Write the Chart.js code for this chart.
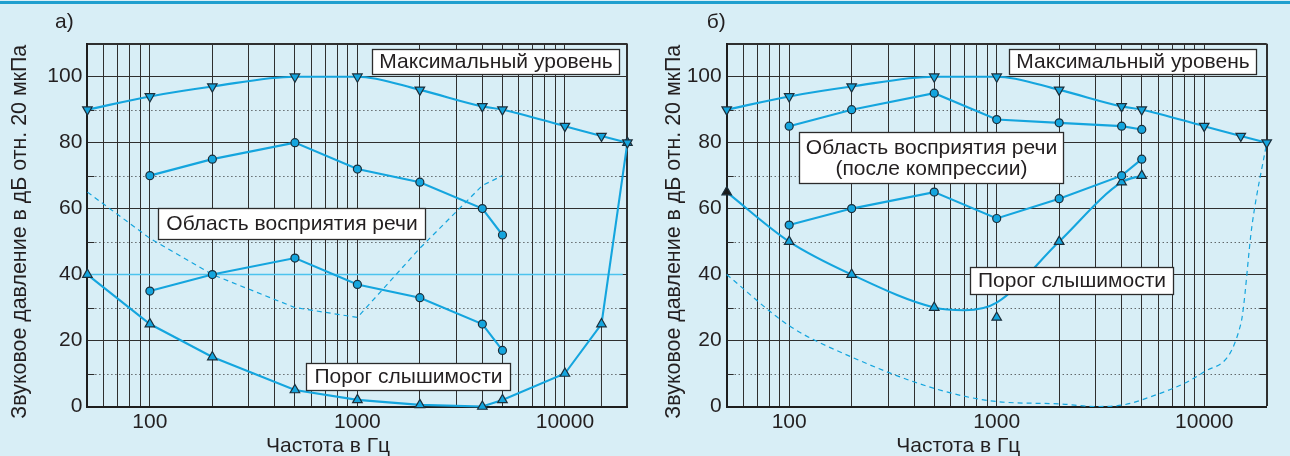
<!DOCTYPE html>
<html lang="ru">
<head>
<meta charset="utf-8">
<title>Звуковое давление — порог слышимости</title>
<script src="https://cdn.jsdelivr.net/npm/chart.js@4.4.1/dist/chart.umd.min.js"></script>
<style>
    html, body { margin: 0; padding: 0; background: #d8eef6; }
    body { width: 1290px; height: 456px; position: relative; overflow: hidden; }
    .filet { position: absolute; left: 0; top: 1px; width: 1290px; height: 3px; background: #1f9fcf; }
    .panneau { position: absolute; top: 0; width: 645px; height: 456px; }
</style>
</head>
<body>
<div class="filet"></div>
<div class="panneau" style="left:0"><canvas id="graphiqueA" width="645" height="456"></canvas></div>
<div class="panneau" style="left:645px"><canvas id="graphiqueB" width="645" height="456"></canvas></div>

<script>
/**
 * Deux panneaux : zone de perception de la parole, seuil d'audition
 * et niveau maximal, en dB rel. 20 µPa selon la fréquence (axe log).
 */

// Lignes verticales de la grille (Hz) et étiquettes affichées
const GRILLE_FREQ  = [50, 60, 70, 80, 90, 100, 200, 300, 400, 500, 600, 700, 800, 900,
                      1000, 2000, 3000, 4000, 5000, 6000, 7000, 8000, 9000, 10000, 20000];
const ETIQUETTES_X = [100, 1000, 10000];
const ETIQUETTES_Y = [0, 20, 40, 60, 80, 100];
const POINTILLES_Y = [10, 30, 50, 70, 90];

// Niveau maximal (triangles pointe en bas), identique sur les deux panneaux
const FREQ_MAX   = [50, 100, 200, 500, 1000, 2000, 4000, 5000, 10000, 15000, 20000];
const NIVEAU_MAX = [90, 94, 97, 100, 100, 96, 91, 90, 85, 82, 80];

// Zone de perception de la parole (cercles)
const FREQ_PAROLE   = [100, 200, 500, 1000, 2000, 4000, 5000];
const PAROLE_HAUT_A = [70, 75, 80, 72, 68, 60, 52];
const PAROLE_BAS_A  = [35, 40, 45, 37, 33, 25, 17];
const PAROLE_HAUT_B = [85, 90, 95, 87, 86, 85, 84];
const PAROLE_BAS_B  = [55, 60, 65, 57, 63, 70, 75];

// Seuil d'audition normal (panneau а, trait plein)
const FREQ_SEUIL = [50, 100, 200, 500, 1000, 2000, 4000, 5000, 10000, 15000, 20000];
const SEUIL_A    = [40, 25, 15, 5, 2, 0.5, 0, 2, 10, 25, 80];

// Seuil d'audition normal (panneau б, tirets)
const FREQ_SEUIL_TIRETS = [50, 100, 200, 500, 1000, 2000, 3000, 4000, 5000, 10000, 15000, 17000, 20000];
const SEUIL_TIRETS_B    = [40, 24.5, 15, 5.5, 1.5, 0.8, 0, 0.4, 2, 10.5, 25, 55, 80];

// Seuil avec perte auditive (panneau а, tirets)
const FREQ_PERTE_A = [50, 100, 200, 500, 1000, 2000, 4000, 5000];
const PERTE_A      = [65, 51, 40, 30, 27, 48, 67, 70];

// Seuil avec perte auditive (panneau б) : courbe lissée et mesures
const FREQ_PERTE_B_COURBE = [50, 100, 200, 500, 700, 1000, 2000, 4000, 5000];
const PERTE_B_COURBE      = [65, 50, 40, 30, 29.2, 31.5, 50, 68, 70];
const FREQ_PERTE_B        = [50, 100, 200, 500, 1000, 2000, 4000, 5000];
const PERTE_B_MESURE      = [65, 50, 40, 30, 27, 50, 68, 70];

// Niveau de référence 40 dB (panneau а)
const FREQ_REF_A = [50, 19000];
const NIVEAU_REF = [40, 40];

const BLEU       = '#14a5de';
const BLEU_CLAIR = '#4cc3ee';
const CONTOUR    = '#1b2e3a';
const ENCRE      = '#231f20';
const POLICE     = '"Liberation Sans", Arial, sans-serif';
const TAILLE     = 21;

function points(freqs, valeurs) {
    return freqs.map((f, i) => ({ x: f, y: valeurs[i] }));
}

function serieCourbe(donnees, extra) {
    return Object.assign({
        data: donnees,
        borderColor: BLEU,
        borderWidth: 2.1,
        pointRadius: 0,
        fill: false,
        clip: false,
        tension: 0,
    }, extra);
}

function serieMarques(donnees, style, extra) {
    const triangle = style !== 'circle';
    return Object.assign({
        data: donnees,
        showLine: false,
        pointStyle: triangle ? 'triangle' : 'circle',
        pointRotation: style === 'bas' ? 180 : 0,
        pointRadius: triangle ? 5.5 : 4,
        pointBorderWidth: 1.2,
        pointBackgroundColor: BLEU,
        pointBorderColor: CONTOUR,
        clip: false,
    }, extra);
}

// Encadrés de texte, placés en coordonnées (Hz, dB)
const ENCADRES_A = [
    { f1: 1172, f2: 18240, haut: 108.3, bas: 100.8, lignes: ['Максимальный уровень'] },
    { f1: 110,  f2: 2118,  haut: 60.1,  bas: 50.7,  lignes: ['Область восприятия речи'] },
    { f1: 563,  f2: 5440,  haut: 13.3,  bas: 5.1,   lignes: ['Порог слышимости'] },
];
const ENCADRES_B = [
    { f1: 1147, f2: 17700, haut: 108.3, bas: 100.8, lignes: ['Максимальный уровень'] },
    { f1: 111,  f2: 2094,  haut: 83.3,  bas: 67.7,  lignes: ['Область восприятия речи', '(после компрессии)'] },
    { f1: 744,  f2: 7080,  haut: 42.4,  bas: 34.2,  lignes: ['Порог слышимости'] },
];

// Grille pointillée, encadrés et titres des axes
const pluginDecor = {
    id: 'decor',
    beforeDatasetsDraw(chart) {
        const { ctx, chartArea: { left, right } } = chart;
        const y = chart.scales.y;
        ctx.save();
        ctx.strokeStyle = '#2a2a2a';
        ctx.lineWidth = 1;
        for (const v of POINTILLES_Y) {
            const py = Math.round(y.getPixelForValue(v)) + 0.5;
            ctx.setLineDash([1, 3]);
            ctx.beginPath();
            ctx.moveTo(left, py);
            ctx.lineTo(right, py);
            ctx.stroke();
            ctx.setLineDash([]);
            ctx.beginPath();
            ctx.moveTo(left, py);
            ctx.lineTo(left + 7, py);
            ctx.moveTo(right - 7, py);
            ctx.lineTo(right, py);
            ctx.stroke();
        }
        ctx.restore();
    },
    afterDatasetsDraw(chart, args, opts) {
        const { ctx } = chart;
        const xs = chart.scales.x, ys = chart.scales.y;
        ctx.save();
        ctx.font = TAILLE + 'px ' + POLICE;
        ctx.textAlign = 'center';
        ctx.textBaseline = 'alphabetic';
        for (const enc of opts.encadres) {
            const x1 = Math.round(xs.getPixelForValue(enc.f1)) + 0.5;
            const x2 = Math.round(xs.getPixelForValue(enc.f2)) + 0.5;
            const y1 = Math.round(ys.getPixelForValue(enc.haut)) + 0.5;
            const y2 = Math.round(ys.getPixelForValue(enc.bas)) + 0.5;
            ctx.fillStyle = '#ffffff';
            ctx.fillRect(x1, y1, x2 - x1, y2 - y1);
            ctx.strokeStyle = '#2b2b2b';
            ctx.lineWidth = 1.3;
            ctx.strokeRect(x1, y1, x2 - x1, y2 - y1);
            ctx.fillStyle = ENCRE;
            const interligne = 21;
            const debut = (y1 + y2) / 2 - (enc.lignes.length - 1) * interligne / 2 + 6;
            enc.lignes.forEach((texte, i) => {
                ctx.fillText(texte, (x1 + x2) / 2, debut + i * interligne);
            });
        }
        ctx.restore();
    },
    afterDraw(chart, args, opts) {
        const { ctx } = chart;
        ctx.save();
        ctx.fillStyle = ENCRE;
        ctx.font = TAILLE + 'px ' + POLICE;
        ctx.textBaseline = 'alphabetic';
        // Titre de l'axe X
        ctx.textAlign = 'center';
        ctx.fillText('Частота в Гц', opts.titreX, 451.5);
        // Titre de l'axe Y (vertical)
        ctx.save();
        ctx.font = '21.4px ' + POLICE;
        ctx.translate(opts.titreY, 231.7);
        ctx.rotate(-Math.PI / 2);
        ctx.fillText('Звуковое давление в дБ отн. 20 мкПа', 0, 0);
        ctx.restore();
        // Lettre du panneau
        ctx.textAlign = 'left';
        ctx.fillText(opts.lettre, opts.xLettre, 28);
        ctx.restore();
    }
};

function creerPanneau(canvas, reglages) {
    new Chart(canvas, {
        type: 'line',
        data: { datasets: reglages.series },
        plugins: [pluginDecor],
        options: {
            responsive: false,
            animation: false,
            devicePixelRatio: 1,
            layout: { padding: { top: 43.7, right: reglages.margeDroite, bottom: 0, left: 0 } },
            plugins: {
                legend: { display: false },
                tooltip: { enabled: false },
                decor: reglages.decor,
            },
            scales: {
                x: {
                    type: 'logarithmic',
                    min: 50,
                    max: 20000,
                    afterBuildTicks: scale => {
                        scale.ticks = reglages.grille.map(v => ({ value: v }));
                    },
                    afterFit: scale => { scale.height = 49.5; },
                    ticks: {
                        autoSkip: false,
                        maxRotation: 0,
                        padding: 3,
                        color: ENCRE,
                        font: { family: POLICE, size: TAILLE },
                        callback: v => ETIQUETTES_X.includes(v) ? String(v) : '',
                    },
                    grid: {
                        drawTicks: false,
                        color: '#2f2f2f',
                        lineWidth: c => c.tick && c.tick.value === 20000 ? 2 : 1,
                    },
                    border: { color: '#1e1e1e', width: 2 },
                },
                y: {
                    min: 0,
                    max: 110,
                    afterFit: scale => { scale.width = reglages.largeurY; },
                    ticks: {
                        stepSize: 10,
                        padding: 5,
                        color: ENCRE,
                        font: { family: POLICE, size: TAILLE },
                        callback: v => ETIQUETTES_Y.includes(v) ? String(v) : '',
                    },
                    grid: {
                        drawTicks: false,
                        color: c => (c.tick && (c.tick.value % 20 === 0 || c.tick.value === 110)) ? '#2f2f2f' : 'rgba(0,0,0,0)',
                        lineWidth: c => c.tick && c.tick.value === 110 ? 2 : 1,
                    },
                    border: { color: '#1e1e1e', width: 2 },
                },
            },
        },
    });
}

function panneauA() {
    const iChute = FREQ_SEUIL.indexOf(15000);
    return {
        grille: GRILLE_FREQ,
        largeurY: 87.4,
        margeDroite: 17.6,
        decor: { encadres: ENCADRES_A, titreX: 328, titreY: 26, lettre: 'а)', xLettre: 55 },
        series: [
            serieMarques(points(FREQ_MAX, NIVEAU_MAX), 'bas'),
            serieCourbe(points(FREQ_MAX, NIVEAU_MAX), { cubicInterpolationMode: 'monotone' }),
            serieMarques(points(FREQ_PAROLE, PAROLE_HAUT_A), 'circle'),
            serieCourbe(points(FREQ_PAROLE, PAROLE_HAUT_A)),
            serieMarques(points(FREQ_PAROLE, PAROLE_BAS_A), 'circle'),
            serieCourbe(points(FREQ_PAROLE, PAROLE_BAS_A)),
            serieMarques(points(FREQ_SEUIL, SEUIL_A), 'haut'),
            serieCourbe(points(FREQ_SEUIL, SEUIL_A)),
            serieCourbe(points(FREQ_PERTE_A, PERTE_A), { borderWidth: 1.2, borderDash: [5, 4] }),
            serieCourbe(points(FREQ_REF_A, NIVEAU_REF), { borderColor: BLEU_CLAIR, borderWidth: 1.5 }),
            // trait de rappel sous le triangle à 15 kHz
            serieCourbe(points([15000, 15000], [0, SEUIL_A[iChute]]), { borderColor: '#2f2f2f', borderWidth: 1 }),
        ],
    };
}

function panneauB() {
    return {
        grille: GRILLE_FREQ,
        largeurY: 81.7,
        margeDroite: 23.3,
        decor: { encadres: ENCADRES_B, titreX: 313.3, titreY: 35, lettre: 'б)', xLettre: 61.7 },
        series: [
            serieMarques(points(FREQ_MAX, NIVEAU_MAX), 'bas'),
            serieCourbe(points(FREQ_MAX, NIVEAU_MAX), { cubicInterpolationMode: 'monotone' }),
            serieMarques(points(FREQ_PAROLE, PAROLE_HAUT_B), 'circle'),
            serieCourbe(points(FREQ_PAROLE, PAROLE_HAUT_B)),
            serieMarques(points(FREQ_PAROLE, PAROLE_BAS_B), 'circle'),
            serieCourbe(points(FREQ_PAROLE, PAROLE_BAS_B)),
            serieMarques(points(FREQ_PERTE_B, PERTE_B_MESURE), 'haut', {
                pointBackgroundColor: c => c.dataIndex === 0 ? '#1a1a1a' : BLEU,
            }),
            serieCourbe(points(FREQ_PERTE_B_COURBE, PERTE_B_COURBE), { cubicInterpolationMode: 'monotone' }),
            serieCourbe(points(FREQ_SEUIL_TIRETS, SEUIL_TIRETS_B), {
                borderWidth: 1.2, borderDash: [5, 4], cubicInterpolationMode: 'monotone',
            }),
        ],
    };
}

creerPanneau(document.getElementById('graphiqueA'), panneauA());
creerPanneau(document.getElementById('graphiqueB'), panneauB());
</script>
</body>
</html>
